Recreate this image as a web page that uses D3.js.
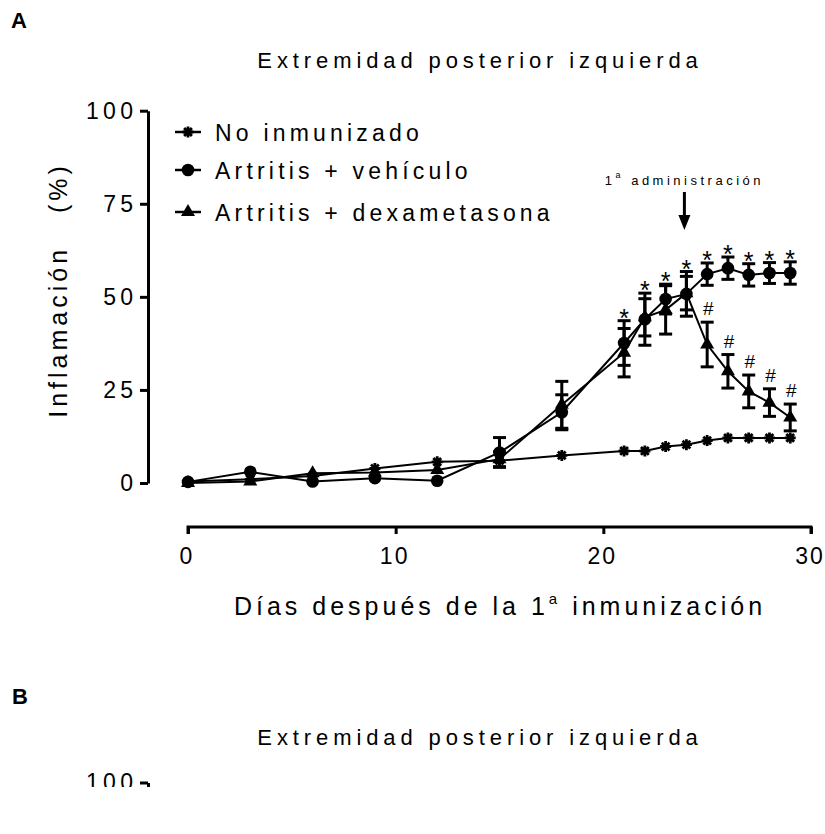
<!DOCTYPE html>
<html>
<head>
<meta charset="utf-8">
<script src="https://cdnjs.cloudflare.com/ajax/libs/d3/7.8.5/d3.min.js"></script>
<style>
  body { margin: 0; background: #fff; }
  svg { display: block; font-family: "Liberation Sans", Arial, sans-serif; }
  text { fill: #000; }
</style>
</head>
<body>
<svg width="825" height="834"></svg>
<script>
// Data (inflammation %, mean and SEM)
const days = [0, 3, 6, 9, 12, 15, 18, 21, 22, 23, 24, 25, 26, 27, 28, 29];
const controlMean = [0.4, 1.0, 1.9, 3.9, 5.7, 6.0, 7.4, 8.6, 8.6, 9.8, 10.3, 11.4, 12.1, 12.1, 12.1, 12.1];
const controlSem  = [0.3, 0.3, 0.3, 0.3, 0.3, 0.3, 0.3, 0.3, 0.3, 0.3, 0.3, 0.3, 0.3, 0.3, 0.3, 0.3];
const vehicleMean = [0.3, 3.0, 0.4, 1.3, 0.6, 8.2, 19.0, 37.6, 44.0, 49.4, 50.8, 56.1, 57.7, 55.9, 56.4, 56.4];
const vehicleSem  = [0.5, 0.6, 0.4, 0.5, 0.4, 4.0, 4.7, 6.0, 7.0, 4.0, 6.0, 3.0, 3.0, 3.0, 2.8, 3.0];
const dexaMean = [0.0, 0.4, 2.6, 2.8, 3.5, 6.4, 21.0, 35.0, 44.5, 46.5, 51.0, 37.2, 30.0, 24.6, 21.6, 17.6];
const dexaSem  = [0.4, 0.4, 0.5, 0.6, 0.6, 2.0, 6.3, 6.5, 5.0, 6.5, 4.5, 6.0, 4.5, 4.4, 3.7, 3.6];

const seriesNames = ["No inmunizado", "Artritis + vehículo", "Artritis + dexametasona"];
const vehicleSigDays = [21, 22, 23, 24, 25, 26, 27, 28, 29]; // "*"
const dexaSigDays = [25, 26, 27, 28, 29];                      // "#"
const adminDay = 24;
const xTicks = [0, 10, 20, 30];
const yTicks = [0, 25, 50, 75, 100];

const svg = d3.select("svg");
const x = d3.scaleLinear().domain([0, 30]).range([188, 811]);
const y = d3.scaleLinear().domain([0, 100]).range([483, 110.7]);

const series = [
  { name: seriesNames[0], mean: controlMean, sem: controlSem, shape: "star" },
  { name: seriesNames[1], mean: vehicleMean, sem: vehicleSem, shape: "circle" },
  { name: seriesNames[2], mean: dexaMean, sem: dexaSem, shape: "triangle" }
];
series.forEach(s => s.points = days.map((d, i) => ({ day: d, v: s.mean[i], e: s.sem[i] })));

// marker drawing
function drawMarker(g, shape, cx, cy) {
  if (shape === "circle") {
    g.append("path").attr("d", d3.symbol(d3.symbolCircle, 125)())
      .attr("transform", `translate(${cx},${cy})`).attr("fill", "#000");
  } else if (shape === "triangle") {
    g.append("path").attr("d", d3.symbol(d3.symbolTriangle, 85)())
      .attr("transform", `translate(${cx},${cy})`).attr("fill", "#000");
  } else {
    const r = 5.5;
    const p = d3.path();
    [0, 45, 90, 135].forEach(a => {
      const t = a * Math.PI / 180;
      p.moveTo(cx - r * Math.cos(t), cy - r * Math.sin(t));
      p.lineTo(cx + r * Math.cos(t), cy + r * Math.sin(t));
    });
    g.append("path").attr("d", p.toString()).attr("stroke", "#000").attr("stroke-width", 2.8);
    g.append("circle").attr("cx", cx).attr("cy", cy).attr("r", 2.8).attr("fill", "#000");
  }
}

// ---- Panel A ----
svg.append("text").attr("x", 11).attr("y", 28).attr("font-size", 22).attr("font-weight", "bold").text("A");

svg.append("text").attr("x", 480).attr("y", 68).attr("text-anchor", "middle")
  .attr("font-size", 22).attr("letter-spacing", 4.9).text("Extremidad posterior izquierda");

// y axis
const yAxis = svg.append("g").attr("transform", "translate(148,0)")
  .call(d3.axisLeft(y).tickValues(yTicks).tickSize(8).tickPadding(7).tickSizeOuter(0));
yAxis.select(".domain").attr("stroke-width", 3);
yAxis.selectAll(".tick line").attr("stroke-width", 3);
yAxis.selectAll(".tick text").attr("font-size", 23).attr("letter-spacing", 4.3)
  .attr("font-family", "Liberation Sans, Arial, sans-serif").attr("dx", 4.3);

svg.append("text").attr("transform", "translate(67,290) rotate(-90)")
  .attr("text-anchor", "middle").attr("font-size", 25).attr("letter-spacing", 4)
  .style("white-space", "pre").text("Inflamación   (%)");

// x axis (offset below)
const xAxis = svg.append("g").attr("transform", "translate(0,527)")
  .call(d3.axisBottom(x).tickValues(xTicks).tickSize(7).tickPadding(14).tickSizeOuter(0));
xAxis.select(".domain").attr("stroke-width", 3).attr("d", `M${x(0)},7V0H${x(30)}V7`);
xAxis.selectAll(".tick line").attr("stroke-width", 3);
xAxis.selectAll(".tick text").attr("font-size", 23).attr("letter-spacing", 2)
  .attr("font-family", "Liberation Sans, Arial, sans-serif").attr("dx", -1.5);

const xl = svg.append("text").attr("x", 500).attr("y", 615).attr("text-anchor", "middle")
  .attr("font-size", 25).attr("letter-spacing", 4);
xl.append("tspan").text("Días después de la 1");
xl.append("tspan").attr("font-size", 15).attr("dy", -11).text("a");
xl.append("tspan").attr("dy", 11).text(" inmunización");

// lines
const line = d3.line().x(d => x(d.day)).y(d => y(d.v));
const plot = svg.append("g");
series.forEach(s => {
  plot.append("path").datum(s.points).attr("d", line)
    .attr("fill", "none").attr("stroke", "#000").attr("stroke-width", 2);
});

// error bars
series.forEach(s => {
  const eb = plot.append("g").attr("stroke", "#000").attr("stroke-width", 3);
  s.points.forEach(p => {
    const cx = x(p.day), y1 = y(p.v + p.e), y2 = y(p.v - p.e);
    if (y2 - y1 < 6) return;
    eb.append("line").attr("x1", cx).attr("x2", cx).attr("y1", y1).attr("y2", y2);
    eb.append("line").attr("x1", cx - 6.5).attr("x2", cx + 6.5).attr("y1", y1).attr("y2", y1);
    eb.append("line").attr("x1", cx - 6.5).attr("x2", cx + 6.5).attr("y1", y2).attr("y2", y2);
  });
});

// markers
series.forEach(s => {
  const g = plot.append("g");
  s.points.forEach(p => drawMarker(g, s.shape, x(p.day), y(p.v)));
});

// significance marks
vehicleSigDays.forEach(d => {
  const i = days.indexOf(d);
  plot.append("text").attr("x", x(d)).attr("y", y(vehicleMean[i] + vehicleSem[i]) + 6)
    .attr("text-anchor", "middle").attr("font-size", 25).text("*");
});
dexaSigDays.forEach(d => {
  const i = days.indexOf(d);
  plot.append("text").attr("x", x(d) + 1).attr("y", y(dexaMean[i] + dexaSem[i]) - 7)
    .attr("text-anchor", "middle").attr("font-size", 19).text("#");
});

// administration arrow
const ax = x(adminDay) - 2;
svg.append("line").attr("x1", ax).attr("x2", ax).attr("y1", 192).attr("y2", 217)
  .attr("stroke", "#000").attr("stroke-width", 3);
svg.append("path").attr("d", `M${ax - 6},215L${ax + 6},215L${ax},230Z`).attr("fill", "#000");
const at = svg.append("text").attr("x", ax).attr("y", 185).attr("text-anchor", "middle")
  .attr("font-size", 13).attr("letter-spacing", 3.5);
at.append("tspan").text("1");
at.append("tspan").attr("font-size", 9).attr("dy", -7).text("a");
at.append("tspan").attr("dy", 7).text(" administración");

// legend
const legend = svg.append("g");
const rows = [132, 170, 212];
series.forEach((s, i) => {
  legend.append("line").attr("x1", 175).attr("x2", 201).attr("y1", rows[i]).attr("y2", rows[i])
    .attr("stroke", "#000").attr("stroke-width", 2.5);
  drawMarker(legend, s.shape, 188, rows[i]);
  legend.append("text").attr("x", 215).attr("y", rows[i] + 8.5)
    .attr("font-size", 23).attr("letter-spacing", 4.2).text(s.name);
});

// ---- Panel B (cut off at the bottom of the picture) ----
svg.append("defs").append("clipPath").attr("id", "clipB")
  .append("rect").attr("x", 0).attr("y", 640).attr("width", 825).attr("height", 147);
const pb = svg.append("g").attr("clip-path", "url(#clipB)");
pb.append("text").attr("x", 12).attr("y", 704).attr("font-size", 22).attr("font-weight", "bold").text("B");
pb.append("text").attr("x", 480).attr("y", 745).attr("text-anchor", "middle")
  .attr("font-size", 22).attr("letter-spacing", 4.9).text("Extremidad posterior izquierda");
const yB = d3.scaleLinear().domain([0, 100]).range([1155, 782.5]);
const yAxisB = pb.append("g").attr("transform", "translate(148,0)")
  .call(d3.axisLeft(yB).tickValues([100]).tickSize(8).tickPadding(7).tickSizeOuter(0));
yAxisB.select(".domain").attr("stroke-width", 3);
yAxisB.selectAll(".tick line").attr("stroke-width", 3);
yAxisB.selectAll(".tick text").attr("font-size", 23).attr("letter-spacing", 4.3)
  .attr("font-family", "Liberation Sans, Arial, sans-serif").attr("dx", 4.3);
</script>
</body>
</html>
